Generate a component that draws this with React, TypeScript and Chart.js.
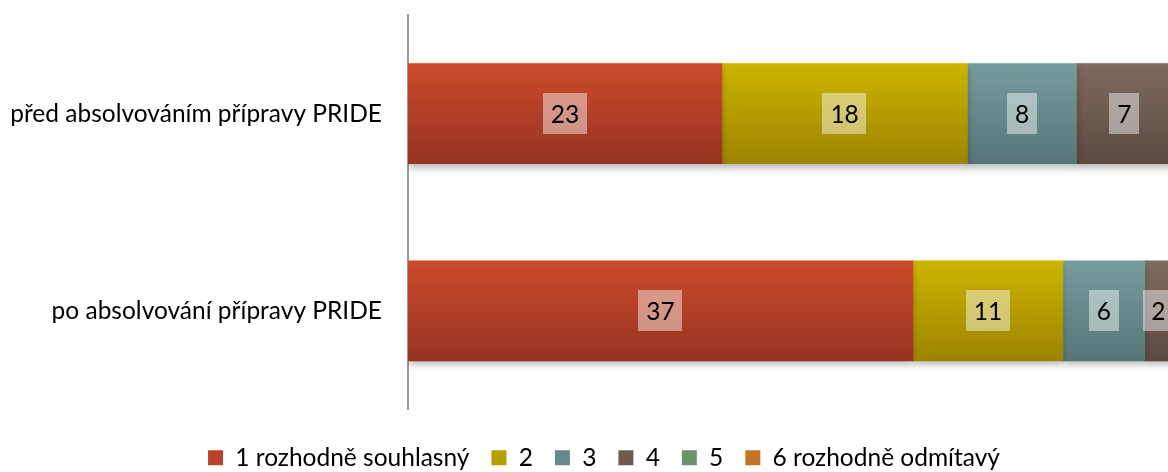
import React, { useEffect, useRef } from "react";
import { Chart, registerables } from "chart.js";

Chart.register(...registerables);

const categories = ["před absolvováním přípravy PRIDE", "po absolvování přípravy PRIDE"];
const seriesNames = ["1 rozhodně souhlasný", "2", "3", "4", "5", "6 rozhodně odmítavý"];
const s1 = [23, 37];
const s2 = [18, 11];
const s3 = [8, 6];
const s4 = [7, 2];
const s5 = [0, 0];
const s6 = [0, 0];
const xMax = 55.7;

const colorsTop = ["#cc4b2c", "#ccb400", "#769d9e", "#7e6a5e", "#74a074", "#d4822e"];
const colorsBottom = ["#963322", "#9c8400", "#567676", "#5c4a42", "#558055", "#a8601c"];
const colorsMid = ["#b8432b", "#b89f00", "#67898a", "#6e5b50", "#6a946a", "#c47426"];
const FONT = "Lato";
const FS = 24.5;

const bg = (i: number) => (ctx: any) => {
  const chart = ctx.chart;
  const y = chart.scales && chart.scales.y;
  if (ctx.dataIndex === undefined || !y) return colorsMid[i];
  const c = y.getPixelForValue(ctx.dataIndex);
  const g = chart.ctx.createLinearGradient(0, c - 50, 0, c + 50);
  g.addColorStop(0, colorsTop[i]);
  g.addColorStop(1, colorsBottom[i]);
  return g;
};

const legendShift = {
  id: "legendShift",
  afterLayout(chart: any) {
    const lg = chart.legend;
    if (!lg) return;
    lg.left += 40;
    lg.top += 14;
    lg.bottom += 14;
  },
};

const shadowPlugin = {
  id: "barShadow",
  beforeDatasetsDraw(chart: any) {
    const c = chart.ctx;
    c.save();
    c.shadowColor = "rgba(0,0,0,0.28)";
    c.shadowBlur = 7;
    c.shadowOffsetY = 4;
  },
  afterDatasetsDraw(chart: any) {
    chart.ctx.restore();
  },
};

const labelPlugin = {
  id: "barLabels",
  afterDatasetsDraw(chart: any) {
    const ctx = chart.ctx;
    ctx.save();
    ctx.font = `${FS}px ${FONT}`;
    ctx.textAlign = "center";
    ctx.textBaseline = "middle";
    chart.data.datasets.forEach((ds: any, di: number) => {
      const meta = chart.getDatasetMeta(di);
      meta.data.forEach((bar: any, i: number) => {
        const v = ds.data[i];
        if (!v) return;
        const { x, y, base } = bar.getProps(["x", "y", "base"], true);
        const cx = (x + base) / 2;
        const t = String(v);
        const w = ctx.measureText(t).width + 16;
        const h = 41;
        ctx.fillStyle = "rgba(255,255,255,0.45)";
        ctx.fillRect(Math.round(cx - w / 2), Math.round(y - h / 2), Math.round(w), h);
        ctx.fillStyle = "#000";
        ctx.fillText(t, cx, y + 1);
      });
    });
    ctx.restore();
  },
};

export default function App() {
  const ref = useRef<HTMLCanvasElement>(null);
  useEffect(() => {
    if (!ref.current) return;
    const series = [s1, s2, s3, s4, s5, s6];
    const chart = new Chart(ref.current, {
      type: "bar",
      data: {
        labels: categories,
        datasets: series.map((d, i) => ({
          label: seriesNames[i],
          data: d,
          backgroundColor: bg(i),
          borderWidth: 0,
          barThickness: 100,
        })),
      },
      options: {
        indexAxis: "y",
        responsive: false,
        animation: false,
        layout: { padding: { top: 15, left: 0, right: 0, bottom: 6 } },
        scales: {
          x: { stacked: true, display: false, min: 0, max: xMax },
          y: {
            stacked: true,
            grid: { display: false, drawTicks: false },
            border: { display: true, color: "#9a9a9a", width: 2 },
            ticks: { padding: 26, color: "#000", font: { family: FONT, size: FS } },
            afterFit: (s: any) => {
              s.width = 408;
              s.paddingTop = 0;
              s.paddingBottom = 0;
            },
          },
        },
        plugins: {
          tooltip: { enabled: false },
          legend: {
            position: "bottom",
            labels: {
              boxWidth: 15,
              boxHeight: 15,
              padding: 22,
              color: "#000",
              font: { family: FONT, size: FS },
              generateLabels: () =>
                seriesNames.map((n, i) => ({
                  text: n,
                  fillStyle: colorsMid[i],
                  strokeStyle: "rgba(0,0,0,0)",
                  lineWidth: 0,
                  datasetIndex: i,
                  hidden: false,
                })),
            },
          },
        },
      },
      plugins: [legendShift, shadowPlugin, labelPlugin],
    } as any);
    return () => chart.destroy();
  }, []);
  return (
    <div style={{ position: "fixed", left: 0, top: 0, width: 1168, height: 472, background: "#fff" }}>
      <canvas ref={ref} width={1168} height={472} style={{ display: "block" }} />
    </div>
  );
}
